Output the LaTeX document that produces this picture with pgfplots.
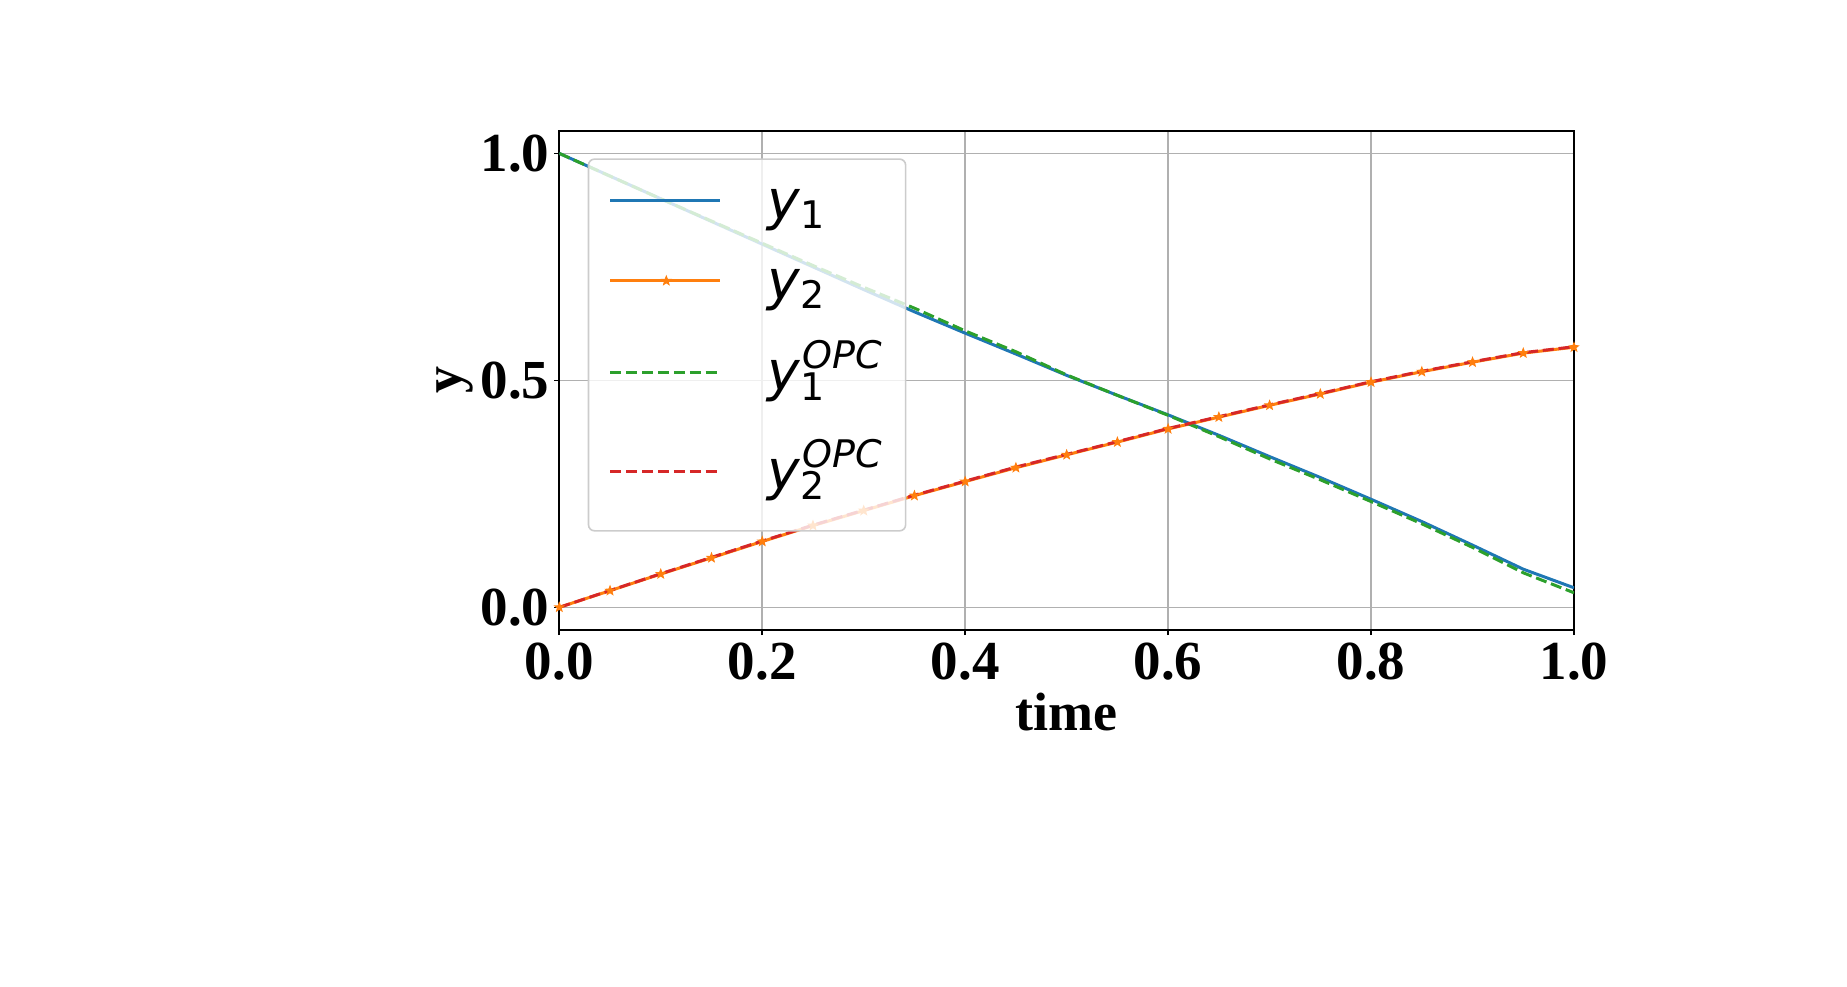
\documentclass[border=0pt]{standalone}
\usepackage{pgfplots}
\pgfplotsset{compat=1.18}
\usepackage{fontspec}
\setmainfont{Liberation Serif}
\newfontfamily\legfont{DejaVu Sans}

\definecolor{tabblue}{HTML}{1F77B4}
\definecolor{taborange}{HTML}{FF7F0E}
\definecolor{tabgreen}{HTML}{2CA02C}
\definecolor{tabred}{HTML}{D62728}
\definecolor{gridgray}{RGB}{176,176,176}
\definecolor{framegray}{RGB}{204,204,204}

% filled five-pointed star
\pgfdeclareplotmark{fstar}{%
  \pgfpathmoveto{\pgfpointpolar{90}{\pgfplotmarksize}}%
  \pgfpathlineto{\pgfpointpolar{126}{0.42\pgfplotmarksize}}%
  \pgfpathlineto{\pgfpointpolar{162}{\pgfplotmarksize}}%
  \pgfpathlineto{\pgfpointpolar{198}{0.42\pgfplotmarksize}}%
  \pgfpathlineto{\pgfpointpolar{234}{\pgfplotmarksize}}%
  \pgfpathlineto{\pgfpointpolar{270}{0.42\pgfplotmarksize}}%
  \pgfpathlineto{\pgfpointpolar{306}{\pgfplotmarksize}}%
  \pgfpathlineto{\pgfpointpolar{342}{0.42\pgfplotmarksize}}%
  \pgfpathlineto{\pgfpointpolar{18}{\pgfplotmarksize}}%
  \pgfpathlineto{\pgfpointpolar{54}{0.42\pgfplotmarksize}}%
  \pgfpathclose
  \pgfusepathqfillstroke
}

% legend label pieces
\newcommand{\lsub}[1]{\raisebox{-4.7pt}{\fontsize{19}{19}\selectfont\upshape #1}}
\newcommand{\lsup}[1]{\kern1.2pt\raisebox{11pt}{\fontsize{19}{19}\selectfont\itshape #1}}
\newcommand{\lentry}[3]{\rule[-20.5pt]{0pt}{#1}\makebox[59pt][l]{{\itshape y}\kern0.2pt#2#3}}

\pgfplotstableread{
t     y1     y2      y1opc  y2opc
0.00  1.000  0.000   1.000  0.000
0.05  0.950  0.0366  0.950  0.037
0.10  0.900  0.0733  0.900  0.074
0.15  0.850  0.109   0.851  0.110
0.20  0.800  0.145   0.802  0.146
0.25  0.750  0.180   0.753  0.181
0.30  0.700  0.213   0.705  0.214
0.35  0.651  0.246   0.659  0.247
0.40  0.604  0.277   0.609  0.278
0.45  0.558  0.3075  0.563  0.309
0.50  0.511  0.336   0.512  0.337
0.55  0.467  0.364   0.467  0.365
0.60  0.424  0.393   0.423  0.394
0.65  0.379  0.419   0.376  0.420
0.70  0.332  0.445   0.327  0.446
0.75  0.286  0.470   0.281  0.471
0.80  0.238  0.496   0.233  0.497
0.85  0.189  0.519   0.184  0.520
0.90  0.137  0.540   0.132  0.541
0.95  0.084  0.560   0.076  0.561
1.00  0.043  0.573   0.032  0.574
}\datatable

\begin{document}
\begin{tikzpicture}
\begin{axis}[
  scale only axis,
  width=507.35pt, height=249.65pt,
  xmin=0, xmax=1, ymin=-0.05, ymax=1.05,
  xtick={0,0.2,0.4,0.6,0.8,1},
  ytick={0,0.5,1},
  xtick pos=bottom, ytick pos=left,
  tick align=outside,
  major tick length=2.5pt,
  every tick/.style={black, line width=0.8pt},
  axis line style={black, line width=0.8pt},
  grid=major,
  grid style={line width=0.8pt, gridgray},
  ticklabel style={font=\fontsize{27.5}{27.5}\selectfont\bfseries, inner sep=0pt,
    /pgf/number format/fixed, /pgf/number format/fixed zerofill,
    /pgf/number format/precision=1, /pgf/number format/assume math mode=true},
  xticklabel style={anchor=north, yshift=-3.95pt},
  yticklabel style={anchor=east, xshift=-2.3pt},
  xlabel={time},
  ylabel={y},
  label style={font=\fontsize{27}{27}\selectfont\bfseries, inner sep=0pt},
  xlabel style={at={(axis description cs:0.5,-0.2003)}, anchor=base},
  ylabel style={at={(axis description cs:-0.0965,0.5)}, anchor=base},
  legend style={
    at={(axis description cs:0.028,0.9447)}, anchor=north west,
    draw=framegray, line width=0.8pt, rounded corners=3pt,
    fill=white, fill opacity=0.8, draw opacity=1, text opacity=1,
    inner xsep=10.15pt, inner ysep=0pt,
    row sep=0pt, column sep=22.5pt,
    nodes={inner sep=0pt, text depth={}},
    cells={anchor=base west},
    font=\legfont\fontsize{27.5}{30}\selectfont,
  },
  legend image code/.code={%
    \path[draw=none, fill=none, sharp corners] (0pt,0pt) rectangle (56pt,9.15pt);
    \draw[#1, sharp corners, mark repeat=2, mark phase=2, fill opacity=1]
      plot coordinates {(0pt,9.15pt) (28pt,9.15pt) (55pt,9.15pt)};
  },
]
\addplot[tabblue, line width=1.5pt] table[x=t, y=y1] {\datatable};
\addlegendentry{\lentry{50.5pt}{\lsub{1}}{}}
\addplot[taborange, line width=1.5pt, mark=fstar, mark size=2.3pt,
  mark options={solid, fill=taborange, line width=0.5pt}] table[x=t, y=y2] {\datatable};
\addlegendentry{\lentry{40pt}{\lsub{2}}{}}
\addplot[tabgreen, line width=1.5pt, dash pattern=on 5.55pt off 2.4pt] table[x=t, y=y1opc] {\datatable};
\addlegendentry{\lentry{45.85pt}{\rlap{\lsub{1}}}{\lsup{OPC}}}
\addplot[tabred, line width=1.5pt, dash pattern=on 5.55pt off 2.4pt] table[x=t, y=y2opc] {\datatable};
\addlegendentry{\lentry{49.5pt}{\rlap{\lsub{2}}}{\lsup{OPC}}}
\end{axis}
\path (current axis.south west) ++(-279.65pt,-178pt) rectangle ++(923.5pt,493pt);
\end{tikzpicture}
\end{document}
